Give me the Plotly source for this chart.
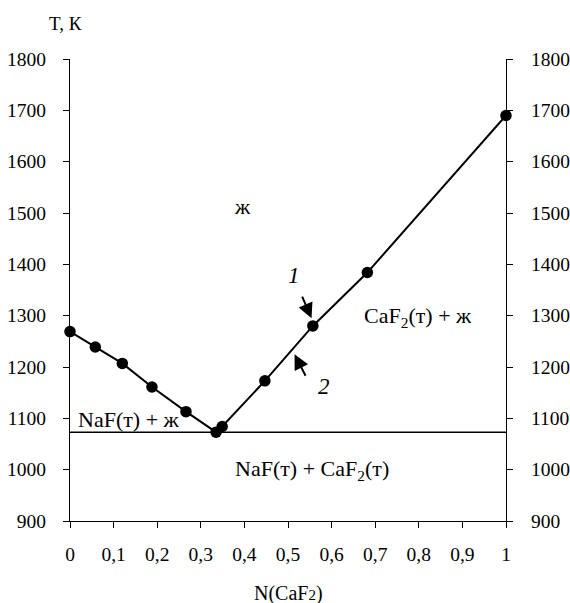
import plotly.graph_objects as go

# Data
x_liq = [0.0, 0.058, 0.12, 0.188, 0.266, 0.335, 0.349, 0.447, 0.557, 0.682, 1.0]
t_liq = [1269, 1239, 1207, 1161, 1113, 1073, 1084, 1173, 1280, 1384, 1690]
x_eut = [0.0, 1.0]
t_eut = [1073, 1073]

x_ticks = [0, 0.1, 0.2, 0.3, 0.4, 0.5, 0.6, 0.7, 0.8, 0.9, 1]
x_ticktext = ["0", "0,1", "0,2", "0,3", "0,4", "0,5", "0,6", "0,7", "0,8", "0,9", "1"]
y_ticks = [900, 1000, 1100, 1200, 1300, 1400, 1500, 1600, 1700, 1800]
y_ticktext = [str(v) for v in y_ticks]

FONT = "Liberation Serif, Times New Roman, serif"
FS = 19.5
FA = 22

fig = go.Figure()
fig.add_trace(go.Scatter(x=x_eut, y=t_eut, mode="lines",
                         line=dict(color="black", width=1.6),
                         hoverinfo="skip", showlegend=False, cliponaxis=False))
fig.add_trace(go.Scatter(x=x_liq, y=t_liq, mode="lines+markers",
                         line=dict(color="black", width=2),
                         marker=dict(color="black", size=11.5),
                         showlegend=False, cliponaxis=False))
# invisible trace to anchor the right axis
fig.add_trace(go.Scatter(x=[0], y=[900], yaxis="y2", mode="markers",
                         marker=dict(opacity=0), showlegend=False, hoverinfo="skip"))

axis_common = dict(showgrid=False, zeroline=False, showline=True, linecolor="black",
                   linewidth=1.3, ticks="outside", ticklen=6, tickcolor="black",
                   tickwidth=1, automargin=False,
                   tickfont=dict(family=FONT, size=FS, color="black"))

fig.update_layout(
    width=570, height=603,
    margin=dict(l=70, r=64, t=59, b=82, autoexpand=False),
    plot_bgcolor="white", paper_bgcolor="white",
    font=dict(family=FONT, size=FS, color="black"),
    xaxis=dict(range=[0, 1], tickvals=x_ticks, ticktext=x_ticktext,
               ticklabelstandoff=9, **axis_common),
    yaxis=dict(range=[900, 1800], tickvals=y_ticks, ticktext=y_ticktext,
               ticklabelstandoff=13, **axis_common),
    yaxis2=dict(range=[900, 1800], tickvals=y_ticks, ticktext=y_ticktext,
                overlaying="y", side="right", ticklabelstandoff=14, **axis_common),
    annotations=[
        dict(text="T, К", xref="paper", yref="paper", x=-0.011, y=1.0, yshift=36,
             xanchor="center", yanchor="middle", showarrow=False, font=dict(size=19)),
        dict(text="N(CaF<span style='font-size:15px'>2</span>)", xref="paper", yref="paper",
             x=0.5, y=0, yshift=-72, xanchor="center", yanchor="middle",
             showarrow=False, font=dict(size=20)),
        dict(text="ж", x=0.396, y=1512, showarrow=False, font=dict(size=FA)),
        dict(text="NaF(т) + ж", x=0.135, y=1098, showarrow=False, font=dict(size=FA)),
        dict(text="NaF(т) + CaF<sub>2</sub>(т)", x=0.556, y=1000, showarrow=False,
             font=dict(size=FA)),
        dict(text="CaF<sub>2</sub>(т) + ж", x=0.798, y=1297, showarrow=False,
             font=dict(size=FA)),
        dict(text="<i>1</i>", x=0.513, y=1379, showarrow=False, font=dict(size=FA + 1)),
        dict(text="<i>2</i>", x=0.582, y=1162, showarrow=False, font=dict(size=FA + 1)),
        dict(text="", x=0.554, y=1295, ax=0.531, ay=1340, axref="x", ayref="y",
             showarrow=True, arrowhead=2, arrowsize=1.5, arrowwidth=2, arrowcolor="black"),
        dict(text="", x=0.515, y=1225, ax=0.542, ay=1180, axref="x", ayref="y",
             showarrow=True, arrowhead=2, arrowsize=1.5, arrowwidth=2, arrowcolor="black"),
    ],
)

fig.write_html("out.html")
